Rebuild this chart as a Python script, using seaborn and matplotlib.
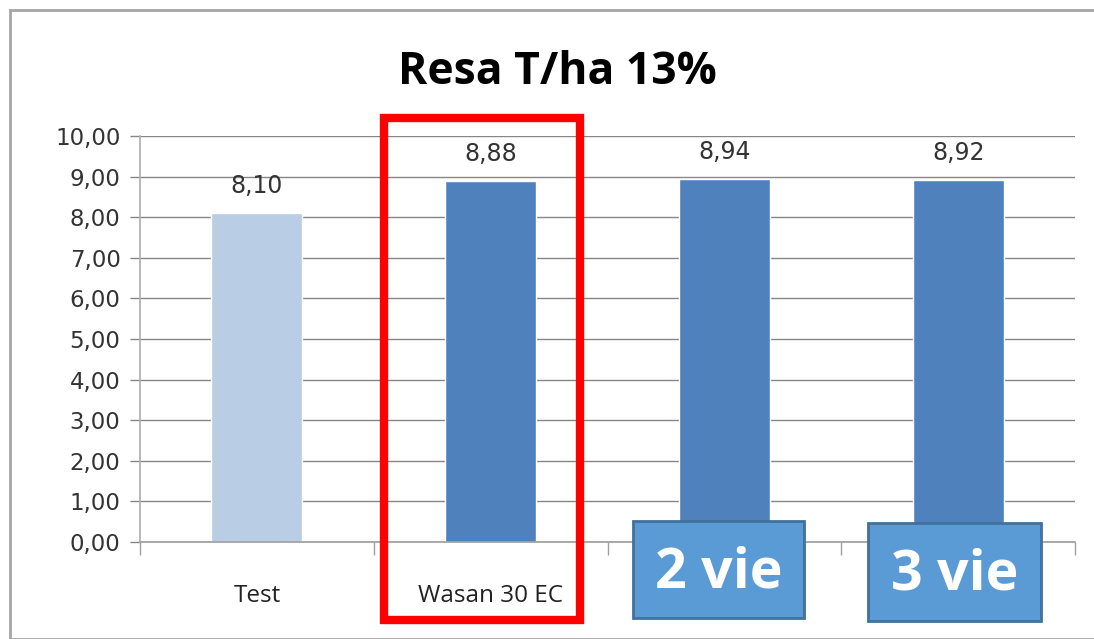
import matplotlib
matplotlib.use("Agg")
import matplotlib.pyplot as plt
import seaborn as sns
import pandas as pd
from matplotlib.patches import Rectangle
from matplotlib.ticker import FixedLocator

categories = ["Test", "Wasan 30 EC", "2 vie", "3 vie"]
values = [8.10, 8.88, 8.94, 8.92]
tick_labels = ["Test", "Wasan 30 EC", "", ""]
bar_colors = ["#B9CDE5", "#4F81BD", "#4F81BD", "#4F81BD"]
yticks = [0, 1, 2, 3, 4, 5, 6, 7, 8, 9, 10]

sns.set_theme(style="white")
plt.rcParams['font.family'] = ['DejaVu Sans']

W, H = 1094, 639
fig = plt.figure(figsize=(W / 100, H / 100), dpi=100)
fig.patch.set_facecolor("white")
ax = fig.add_axes([140 / W, 1 - 542 / H, (1075 - 140) / W, (542 - 136) / H])

df = pd.DataFrame({"cat": categories, "val": values})
sns.barplot(data=df, x="cat", y="val", hue="cat", palette=bar_colors,
            legend=False, width=0.39, ax=ax, saturation=1)

ax.set_xlim(-0.5, 3.5)
ax.set_ylim(0, 10)
ax.set_yticks(yticks)
ax.set_yticklabels([f"{v:.2f}".replace(".", ",") for v in yticks],
                   fontsize=16.5, color="#333333")
ax.set_xticks(range(len(categories)))
ax.set_xticklabels(tick_labels, fontsize=17.5, family="Open Sans", color="#222222")
ax.xaxis.set_minor_locator(FixedLocator([-0.5, 0.5, 1.5, 2.5, 3.5]))
ax.tick_params(axis="x", which="major", length=0, pad=30)
ax.tick_params(axis="x", which="minor", length=9, width=1, color="#A0A0A0", bottom=True)
ax.tick_params(axis="y", which="major", length=7, width=1, color="#868686", left=True, pad=7)
ax.set_xlabel("")
ax.set_ylabel("")
ax.grid(axis="y", color="#868686", linewidth=1)
ax.set_axisbelow(True)
for s in ["top", "right"]:
    ax.spines[s].set_visible(False)
ax.spines["left"].set_color("#B0B0B0")
ax.spines["bottom"].set_color("#A0A0A0")

for c in ax.containers:
    ax.bar_label(c, labels=[f"{v:.2f}".replace(".", ",") for v in c.datavalues],
                 padding=11, fontsize=17, color="#333333")

fig.text(557 / W, 1 - 72 / H, "Resa T/ha 13%", ha="center", va="center",
         fontsize=32, fontweight="bold", family="Open Sans", color="black")

# outer chart frame
fig.patches.append(Rectangle((10 / W, 0), (W + 20) / W, 1 - 10 / H,
                             transform=fig.transFigure, fill=False,
                             edgecolor="#A6A6A6", linewidth=2, zorder=0))

# red highlight box
fig.patches.append(Rectangle((384 / W, 1 - 620 / H), (580 - 384) / W, (620 - 118) / H,
                             transform=fig.transFigure, fill=False,
                             edgecolor="#FF0000", linewidth=6, zorder=5))

# blue label boxes
for (x0, y0, x1, y1, txt) in [(633, 521, 804, 618, "2 vie"), (868, 523, 1041, 621, "3 vie")]:
    fig.patches.append(Rectangle((x0 / W, 1 - y1 / H), (x1 - x0) / W, (y1 - y0) / H,
                                 transform=fig.transFigure, facecolor="#5B9BD5",
                                 edgecolor="#41719C", linewidth=2, zorder=5))
    fig.text((x0 + x1) / 2 / W, 1 - ((y0 + y1) / 2 + 3) / H, txt, ha="center", va="center",
             fontsize=40, fontweight="bold", family="Open Sans", color="white", zorder=6)

fig.savefig("out.png", dpi=100)
